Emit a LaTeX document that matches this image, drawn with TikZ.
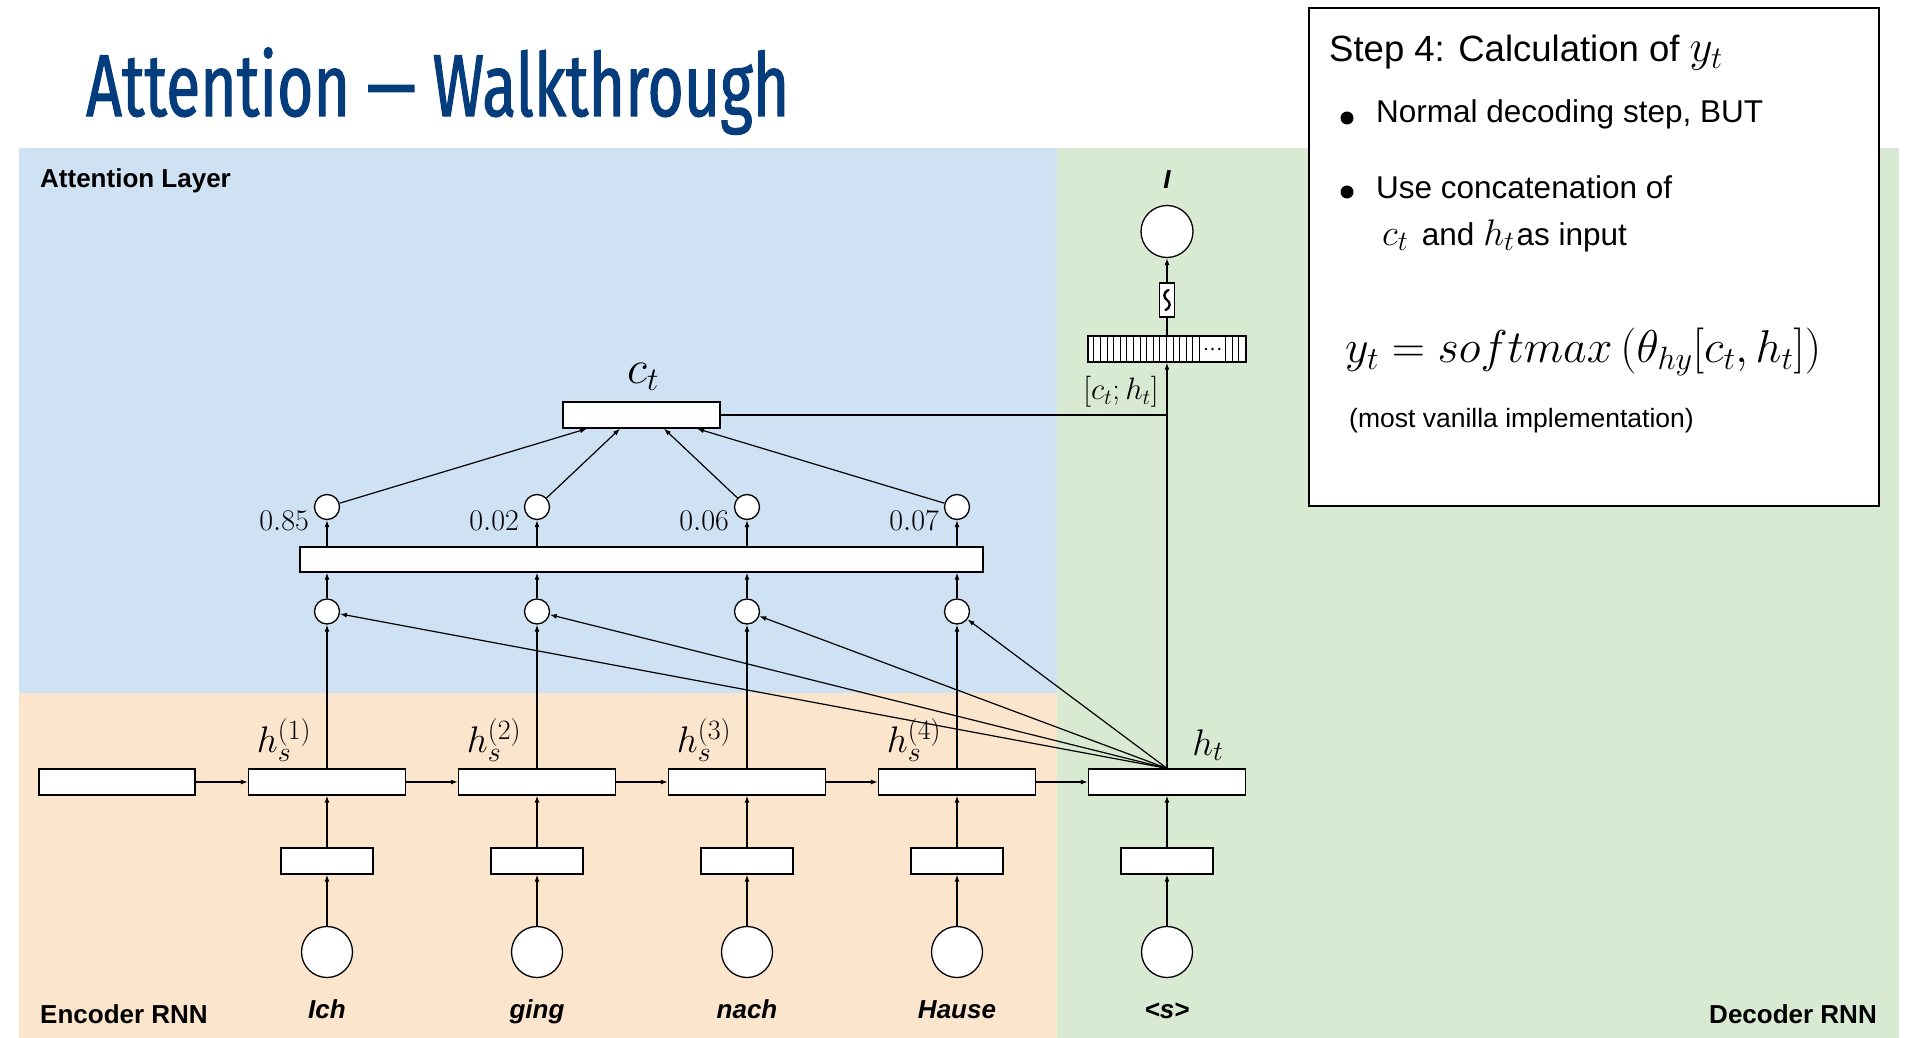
\RequirePackage{fix-cm}
\documentclass[tikz,border=0pt]{standalone}
\usepackage{fontspec}
\setmainfont{Liberation Sans}
\newfontfamily\titlefont[FakeStretch=0.71,FakeBold=1.2]{Fira Sans}
\usetikzlibrary{arrows.meta,calc}
\definecolor{bgblue}{HTML}{CFE2F3}
\definecolor{bgorange}{HTML}{FCE5CD}
\definecolor{bggreen}{HTML}{D9EAD3}
\definecolor{titleblue}{RGB}{4,60,124}
\newcommand\setfs[1]{\fontsize{#1}{#1}\selectfont}
\DeclareMathSizes{37}{37}{28}{20}
\begin{document}
\begin{tikzpicture}[x=1pt,y=-1pt,
  hbox/.style={draw,fill=white,line width=1.3pt,minimum width=157pt,minimum height=26pt,inner sep=0pt},
  ebox/.style={hbox,minimum width=92pt},
  incirc/.style={circle,draw,fill=white,line width=1.3pt,minimum size=51pt,inner sep=0pt},
  scirc/.style={circle,draw,fill=white,line width=1.3pt,minimum size=25pt,inner sep=0pt},
  arr/.style={line width=1.2pt,-{Latex[length=7pt,width=5pt]}},
  conn/.style={line width=1.2pt},
  word/.style={font=\setfs{26}\bfseries\itshape,inner sep=0pt},
  paneltxt/.style={font=\setfs{26}\bfseries,inner sep=0pt},
  boxtxt/.style={inner sep=0pt,anchor=base west},
  mathlbl/.style={inner sep=0pt}
]
\useasboundingbox (0,0) rectangle (1914,1038);
\fill[white] (0,0) rectangle (1914,1038);
% backgrounds
\fill[bgblue] (19,148) rectangle (1057,693);
\fill[bgorange] (19,693) rectangle (1057,1038);
\fill[bggreen] (1057,148) rectangle (1899,1038);

% title
\node[anchor=base west,inner sep=0pt,text=titleblue] (title) at (86,116) {\titlefont\setfs{88}Attention — Walkthrough};

% panel labels
\node[paneltxt,anchor=base west] (attl) at (40,187) {Attention Layer};
\node[paneltxt,anchor=base west] (encl) at (40,1023) {Encoder RNN};
\node[paneltxt,anchor=base east] (decl) at (1877,1023) {Decoder RNN};

% encoder
\node[hbox,minimum width=156pt] (h0) at (117,782) {};
\foreach \i/\x/\w/\p in {1/327/Ich/0.85,2/537/ging/0.02,3/747/nach/0.06,4/957/Hause/0.07}{
  \node[hbox] (h\i) at (\x,782) {};
  \node[ebox] (e\i) at (\x,861) {};
  \node[incirc] (w\i) at (\x,952) {};
  \node[word,anchor=base] (wl\i) at (\x,1018) {\w};
  \node[mathlbl] (hs\i) at (\x-43,740) {\setfs{37}$h_s^{(\i)}$};
  \node[scirc] (s\i) at (\x,611.5) {};
  \node[scirc] (u\i) at (\x,507) {};
  \node[mathlbl,anchor=east] (p\i) at (\x-18,521) {\setfs{30}$\p$};
}
% decoder
\node[hbox] (hd) at (1167,782) {};
\node[ebox] (ed) at (1167,861) {};
\node[incirc] (wd) at (1167,952) {};
\node[word,anchor=base] (wld) at (1167,1018) {<s>};
\node[mathlbl] (htl) at (1208,745) {\setfs{37}$h_t$};

% attention layer
\node[hbox,minimum width=683pt,minimum height=25pt] (bar) at (641.5,559.5) {};
\node[hbox] (ct) at (641.5,415) {};
\node[mathlbl] (ctl) at (643,377) {\setfs{47}$c_t$};
\coordinate (ct1) at ($(ct.south)+(-54.5,0)$);
\coordinate (ct2) at ($(ct.south)+(-21.5,0)$);
\coordinate (ct3) at ($(ct.south)+(22.5,0)$);
\coordinate (ct4) at ($(ct.south)+(55.5,0)$);

% output side
\node[hbox,minimum width=158pt,minimum height=26pt] (cat) at (1167,349) {};
\foreach \k in {1,...,17}{
  \draw[line width=1pt] ($(cat.south west)+(6.6*\k,0)$) -- ($(cat.north west)+(6.6*\k,0)$);
}
\foreach \xx in {138.2,144.8,151.4}{
  \draw[line width=1pt] ($(cat.south west)+(\xx,0)$) -- ($(cat.north west)+(\xx,0)$);
}
\foreach \xx in {118.6,125.2,131.8}{
  \fill ($(cat.west)+(\xx,0)$) circle (1.4);
}
\node[draw,fill=white,line width=1.3pt,minimum width=15pt,minimum height=34pt,inner sep=0pt] (sm) at (1167,300) {};
\draw[line width=2.4pt,line cap=round] ($(sm.center)+(1.5,-10)$) .. controls ($(sm.center)+(-4.5,-7)$) and ($(sm.center)+(-3,-2)$) .. (sm.center) .. controls ($(sm.center)+(3,2)$) and ($(sm.center)+(4.5,7)$) .. ($(sm.center)+(-1.5,10)$);
\node[incirc,minimum size=52pt] (out) at (1167,231.5) {};
\node[word,anchor=base] (ol) at (1167,188) {I};
\node[mathlbl] (catl) at (1121,392) {\setfs{31}$[c_t;h_t]$};

% connectors
\draw[arr] (h0) -- (h1);
\draw[arr] (h1) -- (h2);
\draw[arr] (h2) -- (h3);
\draw[arr] (h3) -- (h4);
\draw[arr] (h4) -- (hd);
\draw[arr] (wd) -- (ed);
\draw[arr] (ed) -- (hd);
\foreach \i in {1,2,3,4}{
  \draw[arr] (w\i) -- (e\i);
  \draw[arr] (e\i) -- (h\i);
  \draw[arr] (h\i) -- (s\i);
  \draw[arr] (hd.north) -- (s\i);
  \draw[arr] (s\i) -- (s\i |- bar.south);
  \draw[arr] (u\i |- bar.north) -- (u\i);
  \draw[arr] (u\i) -- (ct\i);
}
\draw[conn] (ct.east) -- (ct.east -| cat.south);
\draw[arr] (hd.north) -- (cat.south);
\draw[conn] (cat.north) -- (sm.south);
\draw[arr] (sm.north) -- (out.south);

% info box
\node[draw,line width=2.2pt,fill=white,minimum width=570pt,minimum height=498pt,inner sep=0pt,anchor=north west] (info) at (1308,7) {};
\node[boxtxt] (step) at (1329,62) {\setfs{36.5}Step 4: Calculation of \setfs{45}$y_t$};
\fill (1347,118) circle (6.5);
\fill (1347,192) circle (6.5);
\node[boxtxt] (b1) at (1376,123) {\setfs{31.5}Normal decoding step, BUT};
\node[boxtxt] (b2) at (1376,198) {\setfs{31.5}Use concatenation of};
\node[boxtxt] (b3) at (1382,245) {\setfs{31.5}{\setfs{37}$c_t$}\hspace{5pt} and {\setfs{37}$h_t$}\hspace{2pt}as input};
\node[inner sep=0pt,anchor=west] (eq) at (1345,352) {\setfs{46}$y_t = softmax\left(\theta_{hy}[c_t,h_t]\right)$};
\node[boxtxt] (note) at (1349,427) {\setfs{26.5}(most vanilla implementation)};
\end{tikzpicture}
\end{document}
